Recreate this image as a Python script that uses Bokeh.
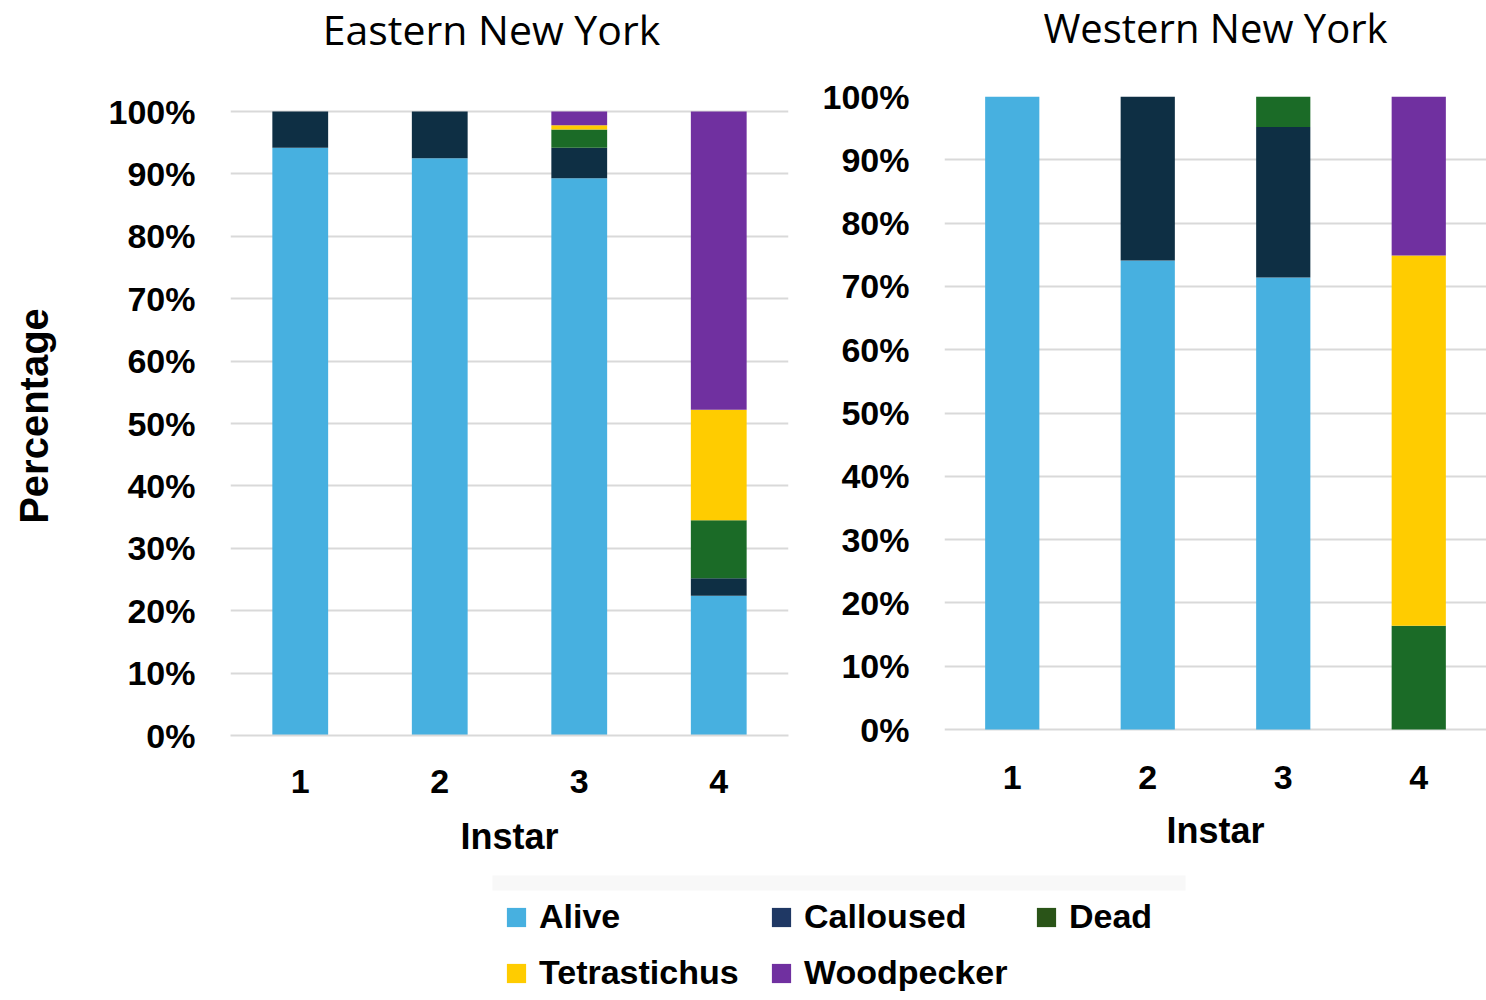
from bokeh.plotting import figure
from bokeh.layouts import column, row
from bokeh.models import (Range1d, FactorRange, NumeralTickFormatter, Legend, LegendItem,
                          FixedTicker, Label, BoxAnnotation)
from bokeh.embed import file_html
from bokeh.resources import INLINE

instars = ["1", "2", "3", "4"]
series = ["Alive", "Calloused", "Dead", "Tetrastichus", "Woodpecker"]
bar_colors = ["#47B0E0", "#0E2F44", "#1B6B27", "#FFCC00", "#7030A0"]
legend_colors = ["#47B0E0", "#1F3864", "#2A5418", "#FFCC00", "#7030A0"]
titles = ["Eastern New York", "Western New York"]

# Eastern New York (percent)
east_alive = [94.2, 92.5, 89.3, 22.4]
east_calloused = [5.8, 7.5, 4.9, 2.8]
east_dead = [0.0, 0.0, 2.9, 9.3]
east_tetrastichus = [0.0, 0.0, 0.7, 17.7]
east_woodpecker = [0.0, 0.0, 2.2, 47.8]

# Western New York (percent)
west_alive = [100.0, 74.1, 71.4, 0.0]
west_calloused = [0.0, 25.9, 23.8, 0.0]
west_dead = [0.0, 0.0, 4.8, 16.4]
west_tetrastichus = [0.0, 0.0, 0.0, 58.5]
west_woodpecker = [0.0, 0.0, 0.0, 25.1]

y_ticks = [0, 0.1, 0.2, 0.3, 0.4, 0.5, 0.6, 0.7, 0.8, 0.9, 1.0]

FONT = "Liberation Sans"
TITLE_H = 62
FIG_H = 808
FRAME_TOP = 96 - TITLE_H
FRAME_BOTTOM = 735 - TITLE_H
FRAME_H = FRAME_BOTTOM - FRAME_TOP


def make_panel(values, width, border_left, border_right, y_start, y_end,
               ylabel, show_axis_line, xlabel_standoff, xaxis_label_standoff):
    data = {"instar": instars}
    for name, vals in zip(series, values):
        data[name] = [v / 100.0 for v in vals]
    p = figure(x_range=FactorRange(*instars, range_padding=0),
               y_range=Range1d(y_start, y_end),
               width=width, height=FIG_H, output_backend="svg",
               toolbar_location=None,
               min_border_left=border_left, min_border_right=border_right,
               min_border_top=FRAME_TOP, min_border_bottom=FIG_H - FRAME_BOTTOM)
    p.vbar_stack(series, x="instar", width=0.4, source=data,
                 color=bar_colors, line_color=None)
    p.outline_line_color = None
    p.background_fill_color = "white"
    p.border_fill_color = "white"

    p.xgrid.grid_line_color = None
    p.ygrid.grid_line_color = "#D9D9D9"
    p.ygrid.grid_line_width = 2
    p.yaxis.ticker = FixedTicker(ticks=y_ticks)
    p.yaxis.formatter = NumeralTickFormatter(format="0%")
    p.yaxis.axis_line_color = None
    p.yaxis.major_tick_line_color = None
    p.yaxis.minor_tick_line_color = None
    p.yaxis.major_tick_out = 0
    p.yaxis.major_label_standoff = 35
    p.yaxis.major_label_text_font = FONT
    p.yaxis.major_label_text_font_size = "34px"
    p.yaxis.major_label_text_font_style = "bold"
    p.yaxis.major_label_text_color = "#000000"
    if ylabel:
        p.yaxis.axis_label = ylabel
        p.yaxis.axis_label_text_font = FONT
        p.yaxis.axis_label_text_font_size = "40px"
        p.yaxis.axis_label_text_font_style = "bold"
        p.yaxis.axis_label_text_color = "#000000"
        p.yaxis.axis_label_standoff = 50

    p.xaxis.axis_line_color = "#D9D9D9" if show_axis_line else None
    p.xaxis.axis_line_width = 2
    p.xaxis.major_tick_line_color = None
    p.xaxis.minor_tick_line_color = None
    p.xaxis.major_tick_out = 0
    p.xaxis.major_label_standoff = xlabel_standoff
    p.xaxis.major_label_text_font = FONT
    p.xaxis.major_label_text_font_size = "34px"
    p.xaxis.major_label_text_font_style = "bold"
    p.xaxis.major_label_text_color = "#000000"
    p.xaxis.axis_label = "Instar"
    p.xaxis.axis_label_text_font = FONT
    p.xaxis.axis_label_text_font_size = "36px"
    p.xaxis.axis_label_text_font_style = "bold"
    p.xaxis.axis_label_text_color = "#000000"
    p.xaxis.axis_label_standoff = xaxis_label_standoff
    return p


# Title strip
tf = figure(width=1486, height=TITLE_H, output_backend="svg", toolbar_location=None,
            x_range=Range1d(0, 1), y_range=Range1d(0, 1),
            min_border_left=0, min_border_right=0, min_border_top=0, min_border_bottom=0)
tf.axis.visible = False
tf.grid.visible = False
tf.outline_line_color = None
for t, (cx, cy, fs) in zip(titles, [(491, 28, "41px"), (1215, 27, "40px")]):
    tf.add_layout(Label(x=cx, y=TITLE_H - cy, x_units="screen", y_units="screen",
                        text=t, text_align="center", text_baseline="middle",
                        text_font="Open Sans", text_font_size=fs, text_color="#000000"))

# Eastern: 0% at y=735, 100% at y=111 (624 px per 100%)
east = make_panel([east_alive, east_calloused, east_dead, east_tetrastichus, east_woodpecker],
                  width=800, border_left=230, border_right=12,
                  y_start=0.0, y_end=FRAME_H / 624.0, ylabel="Percentage",
                  show_axis_line=True, xlabel_standoff=34, xaxis_label_standoff=20)
# Western: 0% at y=729, 100% at y=96 (633 px per 100%)
west = make_panel([west_alive, west_calloused, west_dead, west_tetrastichus, west_woodpecker],
                  width=686, border_left=144, border_right=0,
                  y_start=-6 / 633.0, y_end=(FRAME_H - 6) / 633.0, ylabel=None,
                  show_axis_line=False, xlabel_standoff=30, xaxis_label_standoff=18)

# Legend strip
LEG_H = 1000 - FIG_H - TITLE_H
lf = figure(width=1486, height=LEG_H, output_backend="svg", toolbar_location=None,
            x_range=Range1d(0, 1), y_range=Range1d(0, 1),
            min_border_left=0, min_border_right=0, min_border_top=0, min_border_bottom=0)
lf.axis.visible = False
lf.grid.visible = False
lf.outline_line_color = None
lf.add_layout(BoxAnnotation(left=492, right=1185, top=LEG_H - 5, bottom=LEG_H - 20,
                            left_units="screen", right_units="screen",
                            top_units="screen", bottom_units="screen",
                            fill_color="#F8F8F8", fill_alpha=1, line_color=None))
renderers = {}
for name, c in zip(series, legend_colors):
    renderers[name] = lf.vbar(x=[-10], top=[-10], width=0.1, color=c, line_color=None)
# column-major fill with 2 rows gives row-major visual order
order = ["Alive", "Tetrastichus", "Calloused", "Woodpecker", "Dead"]
items = [LegendItem(label=n, renderers=[renderers[n]]) for n in order]
leg = Legend(items=items, ncols=3, nrows=2, location=(504, 8),
             glyph_width=24, glyph_height=24, label_standoff=11,
             label_text_font=FONT, label_text_font_size="34px",
             label_text_font_style="bold", label_text_color="#000000",
             label_height=38, label_width=213, spacing=17, padding=0, margin=0,
             border_line_color=None, background_fill_alpha=0)
lf.add_layout(leg, "center")

layout = column(tf, row(east, west), lf)
open("out.html", "w").write(file_html(layout, INLINE))
